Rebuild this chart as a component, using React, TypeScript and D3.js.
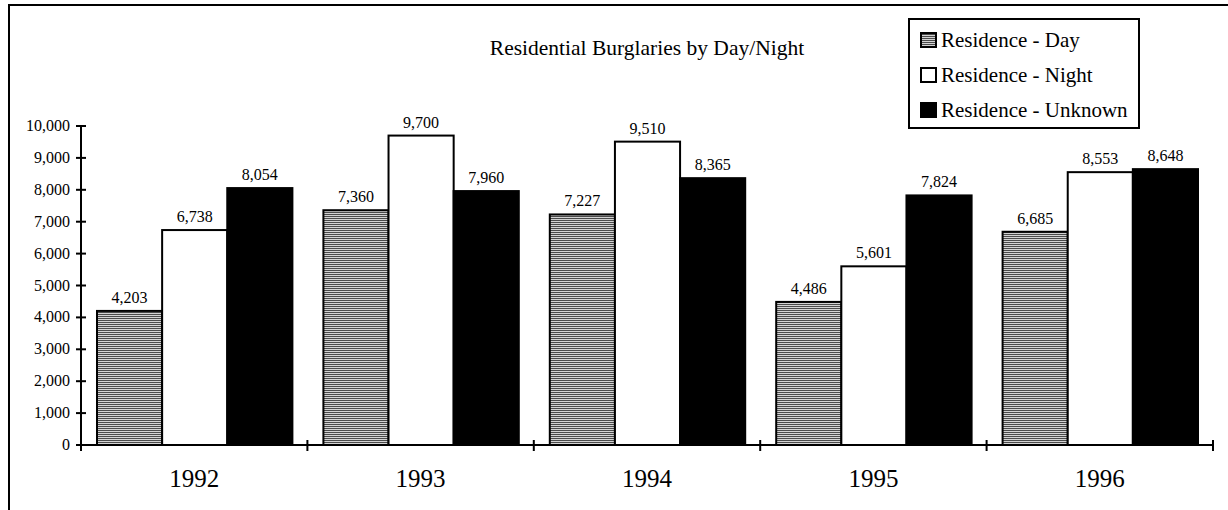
import React from "react";
import * as d3 from "d3";

const years = ["1992", "1993", "1994", "1995", "1996"];
const seriesNames = ["Residence - Day", "Residence - Night", "Residence - Unknown"];
const dayValues = [4203, 7360, 7227, 4486, 6685];
const nightValues = [6738, 9700, 9510, 5601, 8553];
const unknownValues = [8054, 7960, 8365, 7824, 8648];
const yTicks = [0, 1000, 2000, 3000, 4000, 5000, 6000, 7000, 8000, 9000, 10000];
const title = "Residential Burglaries by Day/Night";

const W = 1228;
const H = 510;
const serif = "Liberation Serif, Times New Roman, serif";

export default function App() {
  const left = 81, right = 1213, top = 126, bottom = 445;
  const x = d3.scaleBand<string>().domain(years).range([left, right]).paddingInner(0).paddingOuter(0);
  const y = d3.scaleLinear().domain([0, 10000]).range([bottom, top]);
  const inner = d3.scaleBand<number>().domain([0, 1, 2]).range([16, x.bandwidth() - 15]).padding(0);
  const series = [dayValues, nightValues, unknownValues];
  const fills = ["url(#hatch)", "#fff", "#000"];
  const fmt = d3.format(",");

  return (
    <svg width={W} height={H} style={{ position: "absolute", left: 0, top: 0, background: "#fff" }}>
      <defs>
        <pattern id="hatch" width="4" height="2" patternUnits="userSpaceOnUse">
          <rect width="4" height="2" fill="#d2d2d2" />
          <rect width="4" height="1" fill="#4a4a4a" />
        </pattern>
      </defs>
      <rect x={9} y={5} width={1230} height={520} fill="none" stroke="#000" strokeWidth={2} />
      <text x={647} y={55} textAnchor="middle" fontFamily={serif} fontSize={21.5}>{title}</text>

      {/* bars */}
      {years.map((yr, i) => (
        <g key={yr}>
          {series.map((vals, s) => {
            const bx = (x(yr) as number) + (inner(s) as number);
            const v = vals[i];
            return (
              <g key={s}>
                <rect x={bx} y={y(v)} width={inner.bandwidth()} height={bottom - y(v)} fill={fills[s]} stroke="#000" strokeWidth={2} />
                <text x={bx + inner.bandwidth() / 2} y={y(v) - 8} textAnchor="middle" fontFamily={serif} fontSize={16}>{fmt(v)}</text>
              </g>
            );
          })}
        </g>
      ))}

      {/* y axis */}
      <line x1={left} x2={left} y1={y(10000)} y2={bottom} stroke="#000" strokeWidth={2} />
      {yTicks.map((t) => (
        <g key={t}>
          <line x1={left - 5} x2={left + 5} y1={y(t)} y2={y(t)} stroke="#000" strokeWidth={2} />
          <text x={left - 11} y={y(t) + 5} textAnchor="end" fontFamily={serif} fontSize={16}>{fmt(t)}</text>
        </g>
      ))}

      {/* x axis */}
      <line x1={left} x2={right} y1={bottom} y2={bottom} stroke="#000" strokeWidth={2} />
      {years.map((yr) => (
        <line key={"t" + yr} x1={x(yr) as number} x2={x(yr) as number} y1={bottom - 5} y2={bottom + 6} stroke="#000" strokeWidth={2} />
      ))}
      <line x1={right} x2={right} y1={bottom - 5} y2={bottom + 6} stroke="#000" strokeWidth={2} />
      {years.map((yr) => (
        <text key={"l" + yr} x={(x(yr) as number) + x.bandwidth() / 2} y={487} textAnchor="middle" fontFamily={serif} fontSize={25}>{yr}</text>
      ))}

      {/* legend */}
      <rect x={909} y={19} width={230} height={109} fill="#fff" stroke="#000" strokeWidth={2} />
      {seriesNames.map((name, s) => (
        <g key={name}>
          <rect x={921} y={33 + s * 35} width={15} height={14} fill={fills[s]} stroke="#000" strokeWidth={2} />
          <text x={941} y={47 + s * 35} fontFamily={serif} fontSize={21}>{name}</text>
        </g>
      ))}
    </svg>
  );
}
